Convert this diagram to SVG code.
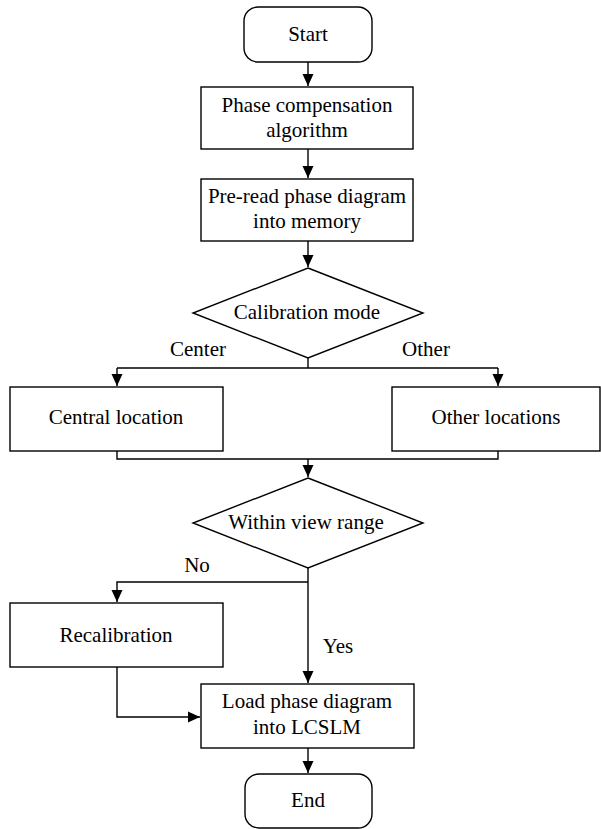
<svg xmlns="http://www.w3.org/2000/svg" width="601" height="829" viewBox="0 0 601 829">
<defs>
<style>
.s{fill:#fff;stroke:#000;stroke-width:1.4}
.c{fill:none;stroke:#000;stroke-width:1.4}
text{font-family:"Liberation Serif","Times New Roman",serif;font-size:21px;fill:#000;text-anchor:middle}
</style>
<marker id="ah" viewBox="0 0 12 12" refX="12" refY="6" markerWidth="12" markerHeight="12" markerUnits="userSpaceOnUse" orient="auto">
<path d="M0,0.5 L12,6 L0,11.5 Z" fill="#000"/>
</marker>
</defs>
<rect width="601" height="829" fill="#fff"/>
<g id="connectors">
<path class="c" d="M308,62 V86" marker-end="url(#ah)"/>
<path class="c" d="M308,149 V178" marker-end="url(#ah)"/>
<path class="c" d="M308,241 V267" marker-end="url(#ah)"/>
<path class="c" d="M308,358 V368"/>
<path class="c" d="M117,368 H498"/>
<path class="c" d="M117,368 V386" marker-end="url(#ah)"/>
<path class="c" d="M498,368 V386" marker-end="url(#ah)"/>
<path class="c" d="M117,451 V459 H498 V451"/>
<path class="c" d="M308,459 V477" marker-end="url(#ah)"/>
<path class="c" d="M308,568 V683" marker-end="url(#ah)"/>
<path class="c" d="M308,582 H117 V602" marker-end="url(#ah)"/>
<path class="c" d="M117,667 V717 H200" marker-end="url(#ah)"/>
<path class="c" d="M308,748 V773" marker-end="url(#ah)"/>
<text x="198" y="356">Center</text>
<text x="426" y="356">Other</text>
<text x="197" y="572">No</text>
<text x="338" y="653">Yes</text>
</g>
<g id="start">
<rect class="s" x="244" y="7" width="128" height="55" rx="14"/>
<text x="308" y="41">Start</text>
</g>
<g id="phase-comp">
<rect class="s" x="201" y="87" width="212" height="62"/>
<text x="307" y="112">Phase compensation</text>
<text x="307" y="137">algorithm</text>
</g>
<g id="preread">
<rect class="s" x="201" y="179" width="212" height="62"/>
<text x="307" y="203">Pre-read phase diagram</text>
<text x="307" y="228">into memory</text>
</g>
<g id="calib-mode">
<polygon class="s" points="308,268 423,313 308,358 193,313"/>
<text x="307" y="319">Calibration mode</text>
</g>
<g id="central">
<rect class="s" x="10" y="387" width="213" height="64"/>
<text x="116" y="424">Central location</text>
</g>
<g id="other">
<rect class="s" x="392" y="387" width="208" height="64"/>
<text x="496" y="424">Other locations</text>
</g>
<g id="within">
<polygon class="s" points="308,478 423,523 308,568 193,523"/>
<text x="306" y="529">Within view range</text>
</g>
<g id="recal">
<rect class="s" x="10" y="603" width="213" height="64"/>
<text x="116" y="642">Recalibration</text>
</g>
<g id="load">
<rect class="s" x="201" y="684" width="213" height="64"/>
<text x="307" y="708">Load phase diagram</text>
<text x="307" y="734">into LCSLM</text>
</g>
<g id="end">
<rect class="s" x="245" y="774" width="127" height="54" rx="14"/>
<text x="308" y="807">End</text>
</g>
</svg>
